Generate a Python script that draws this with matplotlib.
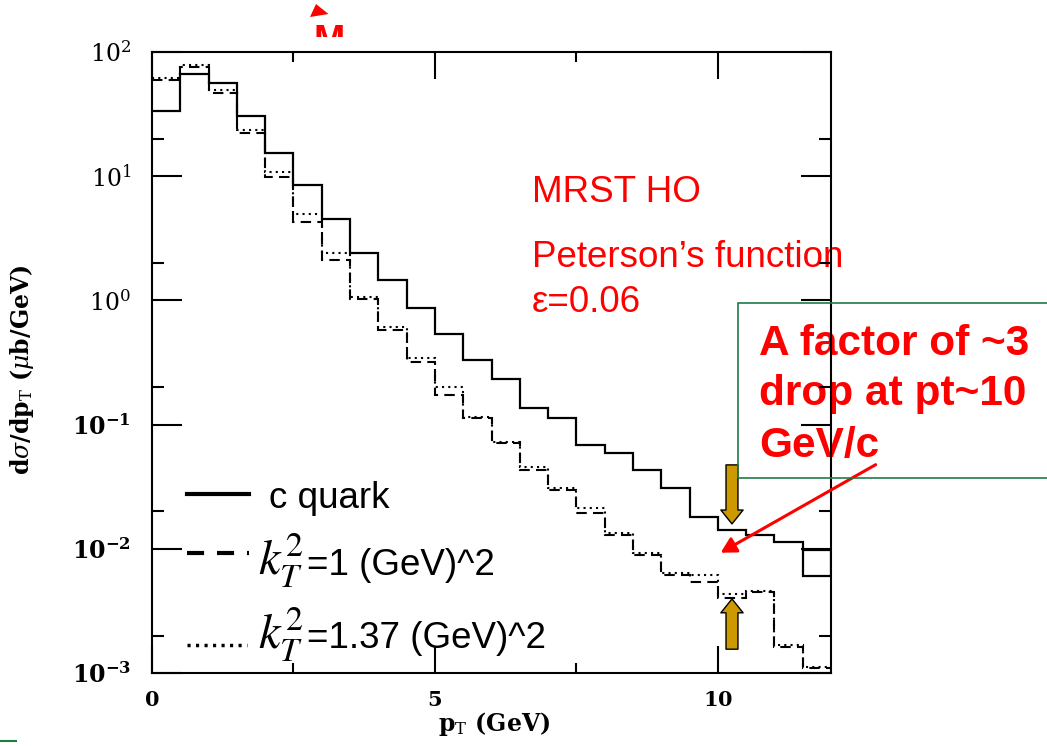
import numpy as np
import matplotlib
matplotlib.use("Agg")
import matplotlib.pyplot as plt
from matplotlib.ticker import FixedLocator, LogLocator, NullFormatter, FuncFormatter
from matplotlib.patches import Rectangle, Polygon
from matplotlib.lines import Line2D
from matplotlib.transforms import Bbox, TransformedBbox

# pT bins in GeV (0.5 GeV wide)
pt_edges = np.arange(0.0, 12.01, 0.5)

# dsigma/dpT (mub/GeV) per bin
c_quark = [33.5, 67.0, 56.0, 30.5, 15.3, 8.5, 4.5, 2.39, 1.46, 0.865,
           0.54, 0.331, 0.232, 0.135, 0.112, 0.0686, 0.0587, 0.043, 0.0307, 0.0181,
           0.0142, 0.0129, 0.0114, 0.0098]
c_quark_last = 0.006
kt_1 = [60.0, 76.0, 46.5, 22.1, 9.9, 4.3, 2.11, 1.02, 0.58, 0.321,
        0.173, 0.112, 0.0708, 0.043, 0.0298, 0.0193, 0.0129, 0.0089, 0.0062, 0.0054,
        0.0040, 0.0045, 0.00163, 0.00109]
kt_137 = [62.0, 78.6, 49.4, 23.5, 10.9, 5.0, 2.39, 1.07, 0.61, 0.342,
          0.202, 0.116, 0.073, 0.0457, 0.0307, 0.0212, 0.0133, 0.0092, 0.00635, 0.0062,
          0.0043, 0.0046, 0.00168, 0.00112]

x_major = [0, 5, 10]
x_minor = [2.5, 7.5]
i10 = 20  # the 10-10.5 GeV bin

W, H = 1047, 746
RED = "#ff0000"
GOLD = "#cc9900"
GREEN = "#1e7b45"

plt.rcParams["mathtext.fontset"] = "dejavuserif"


def fp(x, y):
    # pixel position -> figure fraction
    return x / W, 1 - y / H


fig = plt.figure(figsize=(W / 100, H / 100), dpi=100)
ax = fig.add_axes([152 / W, 1 - 673 / H, (831 - 152) / W, (673 - 52) / H])
ax.patch.set_alpha(0)

ax.stairs(c_quark, pt_edges, baseline=None, color="black", lw=1.6)
ax.stairs([c_quark_last], pt_edges[-2:], baseline=c_quark[-1], color="black", lw=1.6)
ax.stairs(kt_1, pt_edges, baseline=None, color="black", lw=1.5, ls=(0, (5, 3)))
ax.stairs(kt_137, pt_edges, baseline=None, color="black", lw=1.5, ls=(0, (1, 2)))

ax.set_yscale("log")
ax.set_xlim(0, 12)
ax.set_ylim(1e-3, 1e2)

ax.xaxis.set_major_locator(FixedLocator(x_major))
ax.xaxis.set_minor_locator(FixedLocator(x_minor))
ax.yaxis.set_major_locator(LogLocator(base=10, numticks=10))
ax.yaxis.set_minor_locator(LogLocator(base=10, subs=(2,), numticks=10))
ax.yaxis.set_minor_formatter(NullFormatter())


def log_label(v, pos):
    e = int(round(np.log10(v)))
    if e < 0:
        return r"$\mathbf{10^{%d}}$" % e
    return r"$10^{%d}$" % e


ax.yaxis.set_major_formatter(FuncFormatter(log_label))
ax.xaxis.set_major_formatter(FuncFormatter(lambda v, p: r"$\mathbf{%d}$" % v))

ax.tick_params(which="both", direction="in", top=True, right=True, width=1.5)
ax.tick_params(axis="y", which="major", length=21.5, pad=15, labelsize=17)
ax.tick_params(axis="y", which="minor", length=8.5)
ax.tick_params(axis="x", which="major", length=19.5, pad=12, labelsize=15)
ax.tick_params(axis="x", which="minor", length=7)
for s in ax.spines.values():
    s.set_linewidth(1.5)

# axis titles
fig.text(*fp(22, 370), r"d$\sigma$/dp$_{\rm T}$ ($\mu$b/GeV)", rotation=90,
         ha="center", va="center", fontsize=17, family="DejaVu Serif", weight="bold")
fig.text(*fp(494, 724), r"p$_{\rm T}$ (GeV)", ha="center", va="center",
         fontsize=17, family="DejaVu Serif", weight="bold")

# legend drawn by hand
lx = [186.7 / W, 249 / W]
fig.add_artist(Line2D(lx, [1 - 494.3 / H] * 2, color="black", lw=3))
fig.add_artist(Line2D(lx, [1 - 553.3 / H] * 2, color="black", lw=3,
                      ls=(0, (4.1, 3.1))))
fig.add_artist(Line2D([186.7 / W, 247 / W], [1 - 645 / H] * 2, color="black", lw=2.5,
                      ls=(0, (0.9, 1.55))))
sans = dict(family="Liberation Sans", fontsize=26.5, va="baseline")
fig.text(*fp(269, 508.3), "c quark", **sans)
for base, txt in [(575, "=1 (GeV)^2"), (648.3, "=1.37 (GeV)^2")]:
    fig.text(*fp(258, base), r"$k_T^2$", math_fontfamily="stix", fontsize=35,
             va="baseline")
    fig.text(*fp(306.7, base), txt, **sans)

# model labels
red = dict(family="Liberation Sans", fontsize=26.5, color=RED, va="baseline", zorder=-1)
fig.text(*fp(532, 201.7), "MRST HO", **red)
fig.text(*fp(532, 267.3), "Peterson\u2019s function", **red)
fig.text(*fp(532, 311.7), "\u03b5=0.06", **red)

# note box
fig.add_artist(Rectangle(fp(738, 478), (1100 - 738) / W, 175 / H,
                         transform=fig.transFigure, fill=False, ec=GREEN, lw=1.2))
for base, txt in [(355, "A factor of ~3"), (405.5, "drop at pt~10"), (456.7, "GeV/c")]:
    fig.text(*fp(759, base), txt, family="Liberation Sans", weight="bold",
             fontsize=30.5, color=RED, va="baseline", zorder=-1)

ax.annotate("", xy=(10.05, 0.0093), xytext=(111.6, 63.4), textcoords="offset points",
            annotation_clip=False,
            arrowprops=dict(arrowstyle="-|>,head_length=0.91,head_width=0.5",
                            mutation_scale=10, color=RED, lw=2.2, shrinkA=0, shrinkB=0))

# gold arrows marking the two curves at 10 GeV
gold = dict(arrowstyle="simple,head_length=1.0,head_width=1.6,tail_width=0.86",
            mutation_scale=10, fc=GOLD, ec="black", lw=1, shrinkA=0)
xc = 0.5 * (pt_edges[i10] + pt_edges[i10 + 1])
ax.annotate("", xy=(xc, c_quark[i10]), xytext=(0, 46.8), textcoords="offset points",
            arrowprops=dict(gold, shrinkB=4.3))
ax.annotate("", xy=(xc, kt_1[i10]), xytext=(0, -36.7), textcoords="offset points",
            arrowprops=dict(gold, shrinkB=0.5))

# bits of slide decoration
fig.add_artist(Polygon([fp(316, 4), fp(328.5, 14), fp(310, 17)], closed=True,
                       transform=fig.transFigure, fc=RED, ec="none"))
m = fig.text(*fp(313, 52), "M", family="Liberation Sans", weight="bold", fontsize=27,
             color=RED, va="baseline")
m.set_clip_box(TransformedBbox(Bbox([[0, 1 - 37 / H], [1, 1]]), fig.transFigure))
m.set_clip_on(True)
fig.add_artist(Line2D([0, 16 / W], [1 - 741 / H] * 2, color=GREEN, lw=1.5))

fig.savefig("out.png", dpi=100)
